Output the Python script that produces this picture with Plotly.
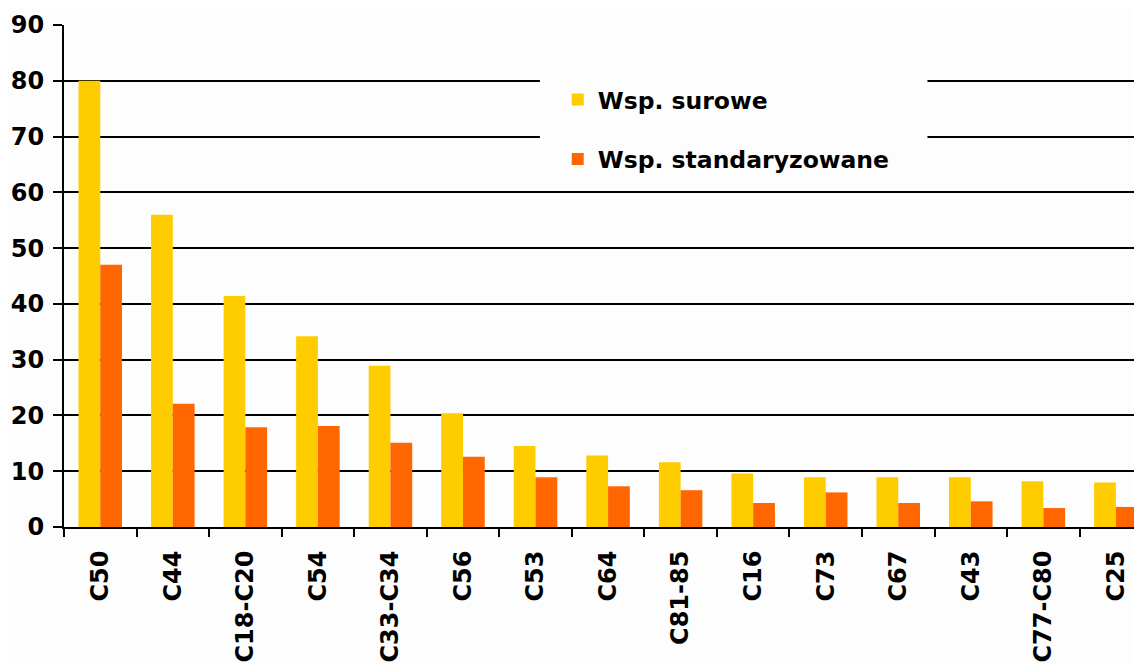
import plotly.graph_objects as go

categories = ["C50", "C44", "C18-C20", "C54", "C33-C34", "C56", "C53", "C64",
              "C81-85", "C16", "C73", "C67", "C43", "C77-C80", "C25"]
surowe = [80.0, 56.0, 41.4, 34.2, 28.9, 20.4, 14.5, 12.8, 11.6, 9.6, 8.9, 8.9, 8.9, 8.2, 8.0]
standaryzowane = [47.0, 22.1, 17.9, 18.1, 15.1, 12.6, 8.9, 7.3, 6.6, 4.3, 6.2, 4.3, 4.6, 3.4, 3.6]
y_ticks = [0, 10, 20, 30, 40, 50, 60, 70, 80, 90]

FONT = dict(family="DejaVu Sans, Verdana, sans-serif", size=24, color="black", weight="bold")
LEGEND_FONT = dict(family="DejaVu Sans, Verdana, sans-serif", size=23.5, color="black", weight="bold")

fig = go.Figure()
fig.add_trace(go.Bar(x=categories, y=surowe, name="Wsp. surowe",
                     marker=dict(color="#FFCC00", line=dict(width=0)), legendgroup="a"))
fig.add_trace(go.Bar(x=categories, y=standaryzowane, name="Wsp. standaryzowane",
                     marker=dict(color="#FF6600", line=dict(width=0)), legendgroup="b"))

# page body has an 8px margin, so the figure is 8px smaller and offset
fig.update_layout(
    width=1134, height=656,
    margin=dict(l=56, r=0, t=17, b=137, autoexpand=False),
    paper_bgcolor="#FDFDFD", plot_bgcolor="#FDFDFD",
    barmode="group", bargap=0.4, bargroupgap=0,
    font=FONT,
    showlegend=True,
    legend=dict(x=0.458, y=0.895, xanchor="left", yanchor="top",
                bgcolor="rgba(0,0,0,0)", font=LEGEND_FONT, tracegroupgap=26,
                itemwidth=30),
    xaxis=dict(type="category", range=[-0.5, 14.36], tickangle=-90,
               tickson="boundaries", ticks="outside", ticklen=8, tickwidth=2,
               tickcolor="black", showline=True, linecolor="black", linewidth=2,
               showgrid=False, tickfont=FONT, ticklabelstandoff=12, automargin=False),
    yaxis=dict(range=[0, 90], tickvals=y_ticks, ticks="outside", ticklen=9,
               tickwidth=2, tickcolor="black", showline=True, linecolor="black",
               linewidth=2, showgrid=True, gridcolor="black", gridwidth=2,
               zeroline=False, tickfont=FONT, ticklabelstandoff=4, automargin=False),
    shapes=[dict(type="rect", xref="paper", yref="y", x0=0.4415, x1=0.801,
                 y0=64, y1=86, fillcolor="#FDFDFD", line=dict(width=0),
                 layer="above")],
)

fig.write_html("out.html")
